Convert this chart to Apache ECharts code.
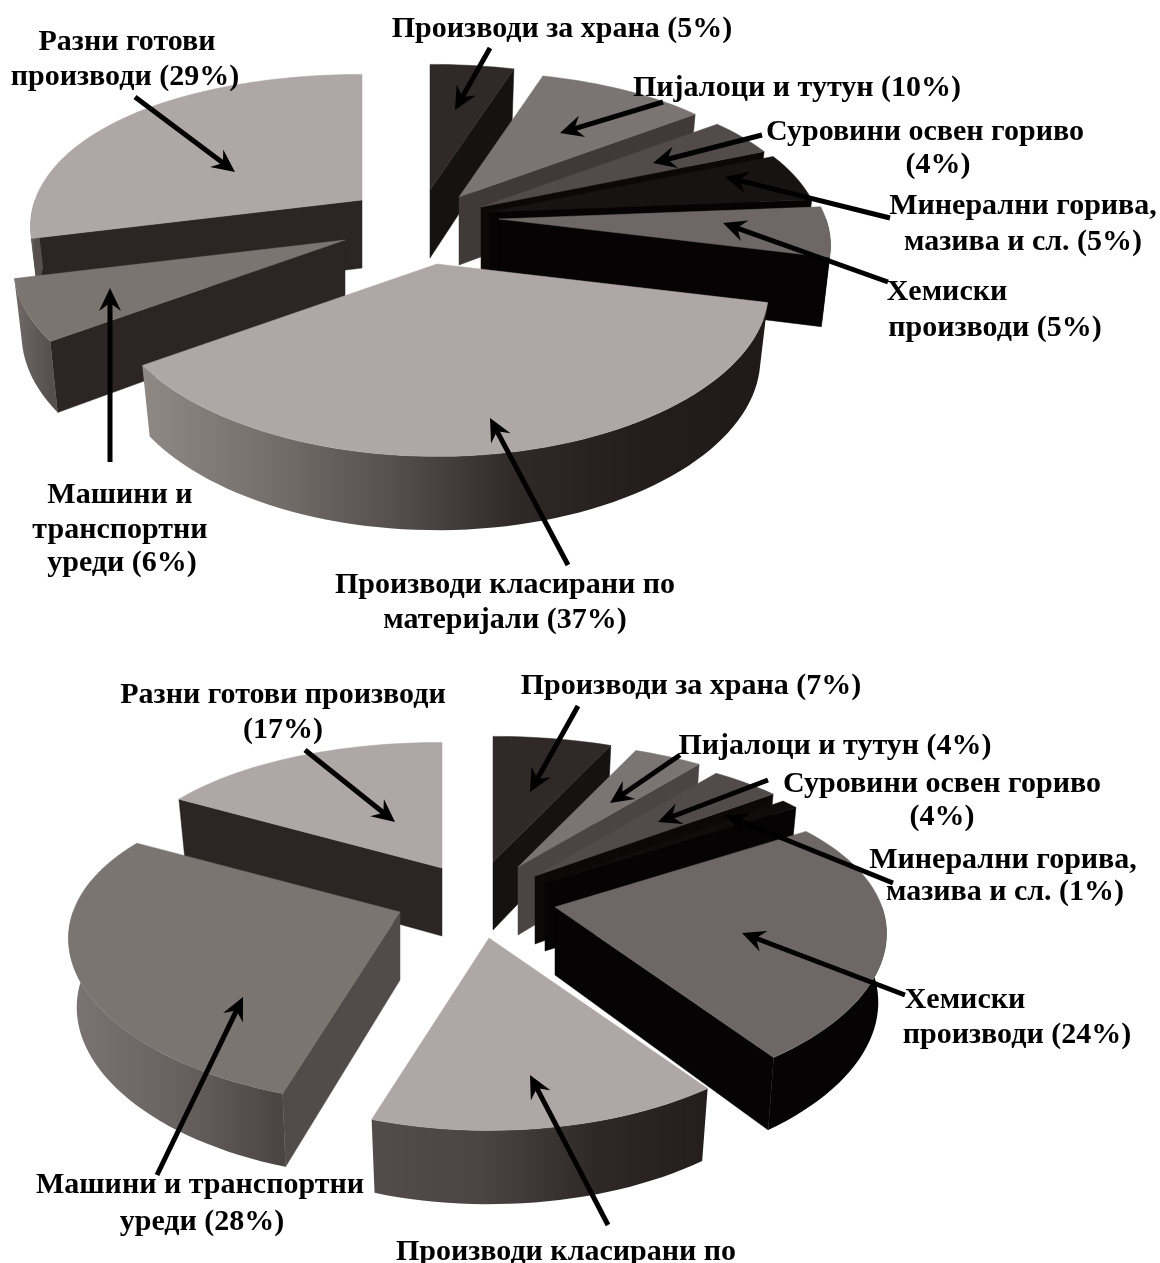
<!DOCTYPE html>
<html>
<head>
<meta charset="utf-8">
<style>html,body{margin:0;padding:0;background:#fff}#chart{width:1160px;height:1263px}</style>
<script src="https://cdn.jsdelivr.net/npm/echarts@6/dist/echarts.min.js"></script>
</head>
<body>
<div id="chart"></div>
<script>
// Commodity groups, clockwise from twelve o'clock
const categories = [
  'Производи за храна', 'Пијалоци и тутун', 'Суровини освен гориво',
  'Минерални горива, мазива и сл.', 'Хемиски производи',
  'Производи класирани по материјали', 'Машини и транспортни уреди', 'Разни готови производи'
];
const upperValues = [5, 10, 4, 5, 5, 37, 6, 29];
const lowerValues = [7, 4, 4, 1, 24, 15, 28, 17];

// How far each slice is pulled out of its pie: [dx, dy]
const upperExplode = [[5, -35], [34, -28], [56, -18], [65, -13], [74, -6], [12, 39], [-80, 15], [-63, -25]];
const lowerExplode = [[18, -38], [43, -33], [60, -24], [70, -17], [80, 7], [14, 38], [-75, 12], [-33, -32]];

// Face colours per slice: top face, cut face, outer wall (left to right)
const upperTop = ['#2f2a28', '#7a7572', '#514c49', '#171312', '#6d6865', '#aea7a5', '#7b7571', '#aea7a5'];
const upperCut = ['#161211', '#3f3a38', '#0c0808', '#050303', '#050303', '#2b2623', '#2b2623', '#2b2623'];
const upperWall = [
  ['#161211', '#161211'], ['#3f3a38', '#3f3a38'], ['#0c0808', '#0c0808'], ['#050303', '#050303'],
  ['#050303', '#050303'], ['#8f8986', '#75706c', '#55504d', '#2e2926', '#231e1c', '#1f1a18'],
  ['#6f6a67', '#55504d'], ['#6f6a67', '#55504d']
];
const lowerTop = ['#2f2a28', '#7a7572', '#514c49', '#100c0b', '#6d6865', '#aea7a5', '#7b7571', '#aea7a5'];
const lowerCut = ['#161211', '#4a4542', '#0c0808', '#050303', '#050303', '#2b2623', '#514c49', '#2b2623'];
const lowerWall = [
  ['#161211', '#161211'], ['#4a4542', '#4a4542'], ['#0c0808', '#0c0808'], ['#050303', '#050303'],
  ['#050303', '#050303'], ['#524d4a', '#4a4542', '#2e2926', '#231e1c'],
  ['#7a7572', '#686360', '#4a4542'], ['#6f6a67', '#55504d']
];

// Projection of the tilted pies
const RADIUS_X = 327, RADIUS_Y = 159, PERSPECTIVE_X = 0.17, PERSPECTIVE_Y = 0.21;
const DEPTH = 68, BASE_SHRINK_X = 0.975, BASE_STRETCH_Y = 1.03;

const upperPie = { cx: 425, cy: 225, values: upperValues, explode: upperExplode, top: upperTop, cut: upperCut, wall: upperWall };
const lowerPie = { cx: 475, cy: 900, values: lowerValues, explode: lowerExplode, top: lowerTop, cut: lowerCut, wall: lowerWall };

// Callout text, one entry per printed line: [text, centre x, centre y]
const labelLines = [
  ['Разни готови', 127, 42], ['производи (29%)', 125, 77],
  ['Производи за храна (5%)', 562, 29],
  ['Пијалоци и тутун (10%)', 797, 88],
  ['Суровини освен гориво', 925, 132], ['(4%)', 938, 165],
  ['Минерални горива,', 1023, 206], ['мазива и сл. (5%)', 1023, 242],
  ['Хемиски', 947, 292], ['производи (5%)', 995, 328],
  ['Производи класирани по', 505, 585], ['материјали (37%)', 505, 620],
  ['Машини и', 120, 495], ['транспортни', 120, 530], ['уреди (6%)', 122, 563],
  ['Разни готови производи', 283, 695], ['(17%)', 283, 730],
  ['Производи за храна (7%)', 691, 686],
  ['Пијалоци и тутун (4%)', 835, 746],
  ['Суровини освен гориво', 942, 784], ['(4%)', 942, 817],
  ['Минерални горива,', 1003, 860], ['мазива и сл. (1%)', 1005, 892],
  ['Хемиски', 965, 1000], ['производи (24%)', 1017, 1035],
  ['Машини и транспортни', 200, 1185], ['уреди (28%)', 202, 1222],
  ['Производи класирани по', 566, 1252]
];

// Leader arrows: [tail x, tail y, head x, head y]
const arrows = [
  [490, 48, 455, 110], [663, 102, 560, 133], [762, 135, 653, 163], [890, 218, 725, 177],
  [888, 282, 723, 223], [568, 565, 490, 418], [110, 462, 110, 288], [135, 97, 235, 172],
  [578, 706, 530, 792], [680, 755, 610, 803], [768, 780, 658, 822], [893, 883, 725, 815],
  [905, 995, 742, 933], [608, 1225, 530, 1075], [157, 1175, 243, 997], [305, 750, 395, 822]
];

const DEG = Math.PI / 180;

// Slice angles in degrees clockwise from the top, scaled from the values
function sliceAngles(values) {
  const total = values.reduce((a, b) => a + b, 0);
  let run = 0;
  return values.map(v => {
    const start = run / total * 360;
    run += v;
    return [start, run / total * 360];
  });
}

function rimPoint(deg) {
  const X = Math.sin(deg * DEG), Y = -Math.cos(deg * DEG);
  return [X * RADIUS_X * (1 + PERSPECTIVE_X * Y), Y * RADIUS_Y * (1 + PERSPECTIVE_Y * Y)];
}

function arcPoints(a, b) {
  const n = Math.max(2, Math.ceil((b - a) / 2));
  const pts = [];
  for (let i = 0; i <= n; i++) pts.push(rimPoint(a + (b - a) * i / n));
  return pts;
}

function sliceShape(pie, index) {
  const [start, end] = sliceAngles(pie.values)[index];
  const ax = pie.cx + pie.explode[index][0];
  const ay = pie.cy + pie.explode[index][1];
  const up = p => [ax + p[0], ay + p[1]];
  const down = p => [ax + p[0] * BASE_SHRINK_X, ay + p[1] * BASE_STRETCH_Y + DEPTH];
  const children = [];
  const face = (pts, fill) => children.push({
    type: 'polygon', shape: { points: pts },
    style: { fill: fill, stroke: typeof fill === 'string' ? fill : null, lineWidth: 0.5 }
  });

  // Cut faces that turn towards the viewer
  [[start, -Math.sin(start * DEG)], [end, Math.sin(end * DEG)]].forEach(([deg, facing]) => {
    if (facing > 0) {
      const rim = rimPoint(deg);
      face([up([0, 0]), up(rim), down(rim), down([0, 0])], pie.cut[index]);
    }
  });

  // Outer wall: only the near half of the rim shows
  const a = Math.max(start, 90), b = Math.min(end, 270);
  if (b > a) {
    const arc = arcPoints(a, b);
    const xs = arc.map(p => ax + p[0]);
    const stops = pie.wall[index];
    const x0 = Math.min(...xs), x1 = Math.max(...xs);
    const fill = new echarts.graphic.LinearGradient(x0, 0, x1, 0, stops.map((c, i) => ({
      offset: i / (stops.length - 1), color: c
    })), true);
    face(arc.map(up).concat(arc.slice().reverse().map(down)), fill);
  }

  // Top face
  face([up([0, 0])].concat(arcPoints(start, end).map(up)), pie.top[index]);
  return { type: 'group', children: children };
}

// Far slices first so that near ones overlap them
function paintOrder(pie) {
  return sliceAngles(pie.values)
    .map((r, i) => ({ i, y: -Math.cos((r[0] + r[1]) / 2 * DEG) }))
    .sort((p, q) => p.y - q.y)
    .map(o => o.i);
}

function pieSeries(pie) {
  return {
    type: 'custom',
    coordinateSystem: 'none',
    silent: true,
    animation: false,
    clip: false,
    data: paintOrder(pie).map(i => ({ name: categories[i], value: [i, pie.values[i]] })),
    renderItem: (params, api) => sliceShape(pie, api.value(0))
  };
}

function arrowShapes(a) {
  const [tx, ty, hx, hy] = a;
  const ang = Math.atan2(hy - ty, hx - tx);
  const rot = (l, w) => [hx + l * Math.cos(ang) - w * Math.sin(ang), hy + l * Math.sin(ang) + w * Math.cos(ang)];
  return [
    { type: 'line', z: 10, silent: true,
      shape: { x1: tx, y1: ty, x2: rot(-12, 0)[0], y2: rot(-12, 0)[1] },
      style: { stroke: '#000', lineWidth: 5 } },
    { type: 'polygon', z: 10, silent: true,
      shape: { points: [[hx, hy], rot(-23, 11), rot(-15, 0), rot(-23, -11)] },
      style: { fill: '#000' } }
  ];
}

const textElements = labelLines.map(([text, x, y]) => ({
  type: 'text', x: x, y: y, z: 11, silent: true,
  style: {
    text: text, fill: '#000', align: 'center', verticalAlign: 'middle',
    font: 'bold 30px "Liberation Serif", serif'
  }
}));

const chart = echarts.init(document.getElementById('chart'), null, { renderer: 'canvas' });
chart.setOption({
  backgroundColor: '#fff',
  animation: false,
  series: [pieSeries(upperPie), pieSeries(lowerPie)],
  graphic: { elements: arrows.flatMap(arrowShapes).concat(textElements) }
});
</script>
</body>
</html>
